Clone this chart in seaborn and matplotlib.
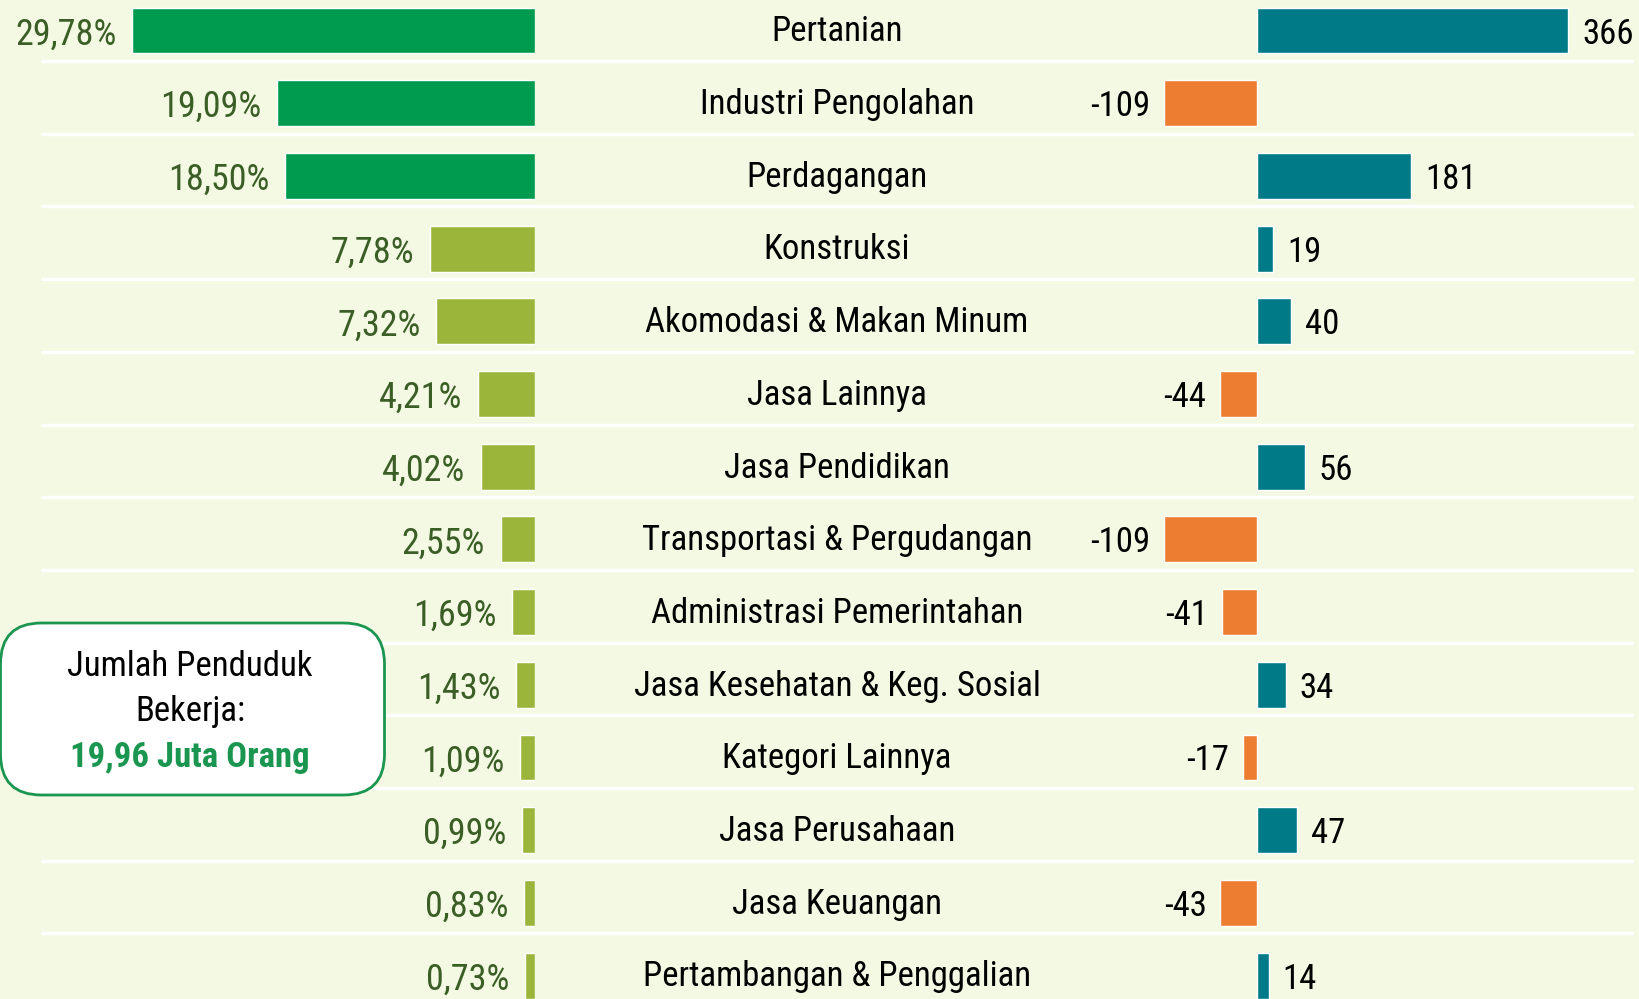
import matplotlib
matplotlib.use("Agg")
import matplotlib.pyplot as plt
from matplotlib import font_manager
import pandas as pd
import seaborn as sns
from matplotlib.patches import FancyBboxPatch

sectors = ["Pertanian", "Industri Pengolahan", "Perdagangan", "Konstruksi",
           "Akomodasi & Makan Minum", "Jasa Lainnya", "Jasa Pendidikan",
           "Transportasi & Pergudangan", "Administrasi Pemerintahan",
           "Jasa Kesehatan & Keg. Sosial", "Kategori Lainnya", "Jasa Perusahaan",
           "Jasa Keuangan", "Pertambangan & Penggalian"]
share = [29.78, 19.09, 18.50, 7.78, 7.32, 4.21, 4.02, 2.55, 1.69, 1.43, 1.09, 0.99, 0.83, 0.73]
change = [366, -109, 181, 19, 40, -44, 56, -109, -41, 34, -17, 47, -43, 14]
box_lines = ["Jumlah Penduduk", "Bekerja:", "19,96 Juta Orang"]

BG = "#F4F9E4"
DARK_GREEN = "#009B4E"
OLIVE = "#9BB53B"
TEAL = "#007A87"
ORANGE = "#ED7D31"
PCT_TXT = "#3B5E26"

sns.set_theme(style="white")

# the original uses a narrow sans; take a condensed face if one is installed
installed = {f.name for f in font_manager.fontManager.ttflist}
condensed = [c for c in ["Liberation Sans Narrow", "DejaVu Sans Condensed",
                         "Roboto Condensed", "Open Sans Condensed"] if c in installed]
if condensed:
    FONT, FS, FS_PCT, FS_BOX = condensed[0], 25, 26, 25
else:
    FONT, FS, FS_PCT, FS_BOX = "Liberation Sans", 21, 22, 21
plt.rcParams["font.family"] = [FONT, "DejaVu Sans"]

df = pd.DataFrame({"sector": sectors, "share": share, "change": change})
df["grp"] = ["top" if i < 3 else "rest" for i in range(len(df))]
df["sign"] = ["pos" if v >= 0 else "neg" for v in df["change"]]

W, H = 1640, 999
fig = plt.figure(figsize=(W / 100, H / 100), dpi=100, facecolor=BG)

n = len(sectors)
row_px = 72.7
top = -30.5 / row_px
bottom = (H - 30.5) / row_px
ylim = (bottom, top)

# background axes for separators and category labels (pixel x coords)
ax_bg = fig.add_axes([0, 0, 1, 1])
ax_bg.set_xlim(0, W)
ax_bg.set_ylim(*ylim)
ax_bg.axis("off")
for i in range(n):
    ax_bg.plot([42, 1632], [i + 0.42, i + 0.42], color="white", lw=2.5, zorder=1)
    ax_bg.text(837, i - 0.03, sectors[i], ha="center", va="center_baseline",
               fontsize=FS, color="black")

# left: share of employed population
left_w = 535
ax_l = fig.add_axes([0, 0, left_w / W, 1])
ax_l.patch.set_alpha(0)
sns.barplot(data=df, y="sector", x="share", hue="grp", orient="h",
            palette={"top": DARK_GREEN, "rest": OLIVE}, width=0.63,
            legend=False, saturation=1, ax=ax_l)
ax_l.set_xlim(left_w / 13.52, 0)
ax_l.set_ylim(*ylim)
ax_l.axis("off")
for i, v in enumerate(share):
    ax_l.annotate(f"{v:.2f}%".replace(".", ","), (v, i), xytext=(-11, 0),
                  textcoords="offset points", ha="right", va="center_baseline",
                  fontsize=FS_PCT, color=PCT_TXT)

# right: change in employed population
r_x0 = 900
zero_px = 1257
scale = 0.851
ax_r = fig.add_axes([r_x0 / W, 0, (W - r_x0) / W, 1])
ax_r.patch.set_alpha(0)
sns.barplot(data=df, y="sector", x="change", hue="sign", orient="h",
            palette={"pos": TEAL, "neg": ORANGE}, width=0.63,
            legend=False, saturation=1, ax=ax_r)
ax_r.set_xlim(-(zero_px - r_x0) / scale, (W - zero_px) / scale)
ax_r.set_ylim(*ylim)
ax_r.axis("off")
for i, v in enumerate(change):
    off = 10 if v >= 0 else -10
    ax_r.annotate(str(v), (v, i), xytext=(off, 0), textcoords="offset points",
                  ha="left" if v >= 0 else "right", va="center_baseline",
                  fontsize=FS, color="black")

# info box
box = FancyBboxPatch((0.5 / W, (H - 795) / H), 384 / W, 172 / H,
                     boxstyle="round,pad=0,rounding_size=0.025",
                     transform=fig.transFigure, facecolor="white",
                     edgecolor="#1A9650", lw=2, mutation_aspect=W / H)
fig.patches.append(box)
cx = 190 / W
fig.text(cx, 1 - 667 / H, box_lines[0], ha="center", va="center", fontsize=FS_BOX, color="black")
fig.text(cx, 1 - 712 / H, box_lines[1], ha="center", va="center", fontsize=FS_BOX, color="black")
fig.text(cx, 1 - 757 / H, box_lines[2], ha="center", va="center", fontsize=FS_BOX,
         color="#1A9650", fontweight="bold")

fig.savefig("out.png", dpi=100, facecolor=BG)
